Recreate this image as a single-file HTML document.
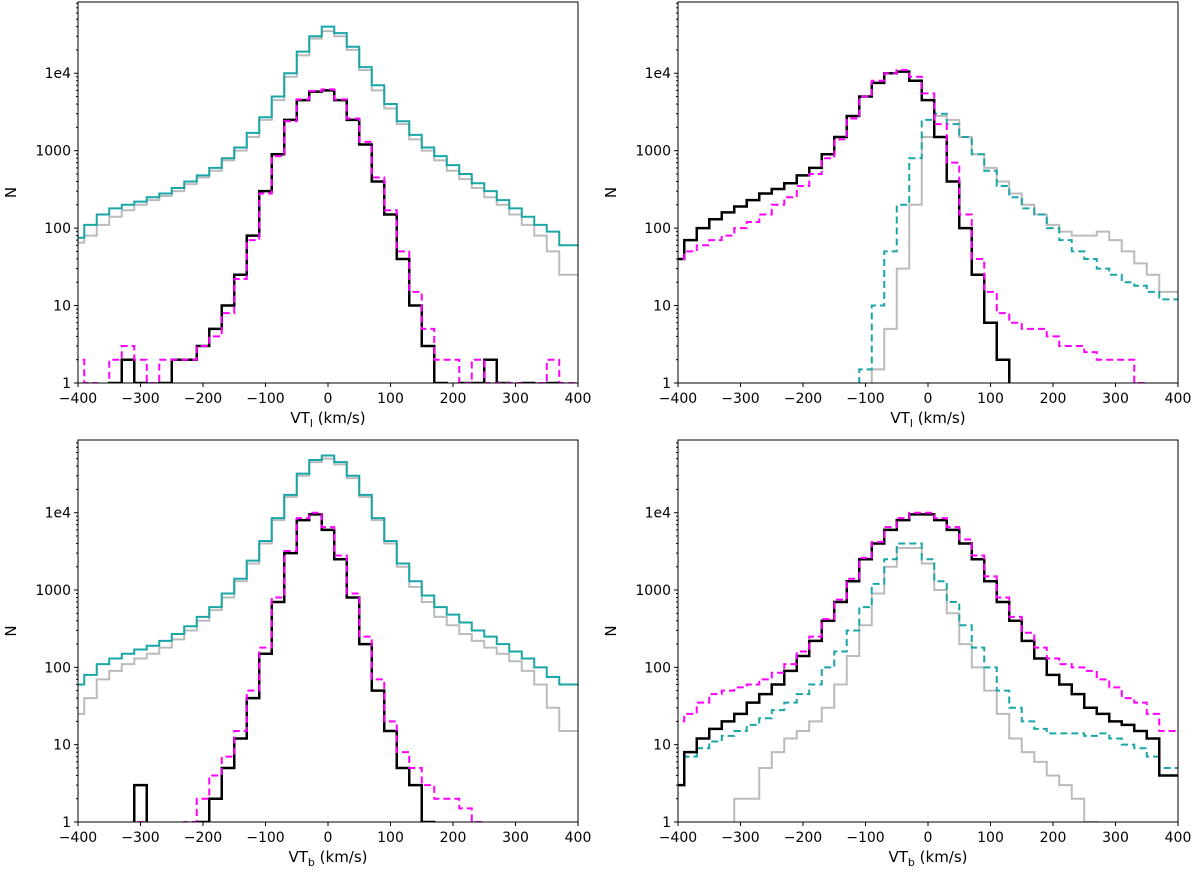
<!DOCTYPE html>
<html><head><meta charset="utf-8"><style>
body{margin:0;background:#fff;}
svg{display:block;font-family:"DejaVu Sans","Liberation Sans",sans-serif;}
</style></head><body>
<svg id="chart" width="1200" height="880" xmlns="http://www.w3.org/2000/svg"></svg>
<script>
const bins = [-410,-390,-370,-350,-330,-310,-290,-270,-250,-230,-210,-190,-170,-150,-130,-110,-90,-70,-50,-30,-10,10,30,50,70,90,110,130,150,170,190,210,230,250,270,290,310,330,350,370];
const xTicks = [-400,-300,-200,-100,0,100,200,300,400];
const yTicks = [1,10,100,1000,10000];
const yTickLabels = ["1","10","100","1000","1e4"];

const p1Gray = [65,80,110,140,170,200,230,260,300,370,450,550,750,1000,1500,2500,4500,9000,17000,28000,35000,30000,20000,11000,6000,3500,2200,1400,1000,750,550,430,330,250,200,150,110,80,50,25];
const p1Teal = [75,110,150,180,200,220,250,280,330,400,480,600,800,1100,1700,2700,5000,10000,19000,30000,40000,33000,22000,12000,7000,4000,2400,1600,1100,850,650,500,380,300,230,180,140,110,90,60];
const p1Black = [0,0,0,1,2,1,0,1,2,2,3,5,10,25,80,300,900,2500,4500,5800,6000,4500,2500,1200,400,150,40,10,3,1,0,1,1,2,1,0,1,0,1,0];
const p1Magenta = [2,1,0,2,3,2,1,2,2,2,3,4,8,22,70,280,850,2400,4600,5900,6200,4600,2600,1300,450,170,50,15,5,2,2,1,2,1,1,1,0,1,2,1];

const p2Black = [40,70,100,130,160,190,230,280,320,380,480,600,900,1500,2800,5000,7500,10000,10500,8000,4500,1500,400,100,25,6,2,0,0,0,0,0,0,0,0,0,0,0,0,0];
const p2Magenta = [40,50,60,70,80,100,120,150,200,250,350,500,800,1400,2600,5000,8000,10000,11000,9000,5500,2200,700,150,40,15,8,6,5,5,4,3,3,2.5,2,2,2,1,0,0];
const p2Teal = [0,0,0,0,0,0,0,0,0,0,0,0,0,0,0,1.5,10,50,200,800,2500,3000,2200,1500,900,550,350,250,180,150,100,70,50,40,30,25,20,18,15,12];
const p2Gray = [0,0,0,0,0,0,0,0,0,0,0,0,0,0,0,0,1.5,5,30,200,1500,2800,2500,1500,900,600,400,280,200,150,110,90,80,80,90,70,50,35,25,15];

const p3Gray = [25,40,70,90,110,130,150,180,230,300,400,550,800,1300,2200,4000,8000,16000,30000,45000,50000,42000,28000,16000,8000,4000,2000,1100,700,450,350,270,220,180,150,120,90,60,30,15];
const p3Teal = [60,80,110,130,150,170,190,220,270,340,450,600,900,1400,2400,4300,8500,17000,32000,48000,55000,45000,30000,17000,8500,4300,2200,1300,850,600,480,380,300,250,200,160,130,100,75,60];
const p3Black = [0,0,0,0,0,3,0,0,0,0,1,2,5,12,40,150,700,3000,8000,9500,6000,2500,800,200,50,15,5,3,1,0,0,0,0,0,0,0,0,0,0,0];
const p3Magenta = [0,0,0,0,0,1,0,0,0,1,2,4,7,15,50,180,800,3200,8500,10000,6500,2800,900,250,70,20,8,5,3,2,2,1.5,1,0,0,0,0,0,0,0];

const p4Black = [3,8,12,16,20,25,35,45,60,90,140,220,400,700,1300,2500,4000,6000,8000,9500,9500,8000,6000,4000,2500,1300,700,400,220,130,80,60,45,30,25,20,18,15,12,4];
const p4Magenta = [20,25,35,45,50,55,60,70,85,110,160,250,420,750,1400,2600,4200,6500,8500,10000,10000,8500,6500,4500,2800,1500,800,450,280,180,130,110,100,90,70,55,40,35,25,15];
const p4Teal = [5,7,9,11,13,15,18,22,28,35,45,60,100,160,300,600,1200,2500,4000,4000,2500,1300,700,350,180,100,50,30,20,16,14,14,14,13,14,12,10,9,7,5];
const p4Gray = [0,0,0,0,0,2,2,5,8,12,15,20,30,60,140,350,900,2000,3500,3500,2200,1000,500,200,100,50,25,12,8,6,4,3,2,1,0,0,0,0,0,0];

const NS = "http://www.w3.org/2000/svg";
const svg = document.getElementById("chart");
function mk(tag, attrs, parent){const e=document.createElementNS(NS,tag);for(const k in attrs)e.setAttribute(k,attrs[k]);(parent||svg).appendChild(e);return e;}

const panels = [
 {id:"top-left", l:78,r:578,t:2,b:383,top:4.92,lab:"l",series:[[p1Gray,"#bbbbbb",""],[p1Teal,"#1aa6a6",""],[p1Black,"#000",""],[p1Magenta,"#ff00ff","7,4"]]},
 {id:"top-right", l:678,r:1178,t:2,b:383,top:4.92,lab:"l",series:[[p2Gray,"#bbbbbb",""],[p2Teal,"#1aa6a6","7,4"],[p2Black,"#000",""],[p2Magenta,"#ff00ff","7,4"]]},
 {id:"bottom-left", l:78,r:578,t:440,b:822,top:4.94,lab:"b",series:[[p3Gray,"#bbbbbb",""],[p3Teal,"#1aa6a6",""],[p3Black,"#000",""],[p3Magenta,"#ff00ff","7,4"]]},
 {id:"bottom-right", l:678,r:1178,t:440,b:822,top:4.94,lab:"b",series:[[p4Gray,"#bbbbbb",""],[p4Teal,"#1aa6a6","7,4"],[p4Black,"#000",""],[p4Magenta,"#ff00ff","7,4"]]}
];
const names=["gray","teal","black","magenta"];

panels.forEach((p,pi)=>{
  const g = mk("g",{});
  
  
  const xs = v => p.l + (v+400)/800*(p.r-p.l);
  const ys = v => { const lv = v>0?Math.log10(v):-1; return p.b - lv/p.top*(p.b-p.t); };
  const cp = mk("clipPath",{id:"clip"+pi},g);
  mk("rect",{x:p.l,y:p.t,width:p.r-p.l,height:p.b-p.t},cp);
  p.series.forEach((s,si)=>{
    const vals=s[0]; let d="";
    const bw=20;
    vals.forEach((v,i)=>{
      const x0=xs(bins[i]), x1=(i===vals.length-1)?xs(400):xs(bins[i]+bw), y=ys(v);
      d += (i===0? "M"+x0+","+y : "L"+x0+","+y) + " L"+x1+","+y;
    });
    const path = mk("path",{d:d,fill:"none",stroke:s[1],"stroke-width":si===2?2.5:2,"stroke-dasharray":s[2],"clip-path":"url(#clip"+pi+")"},g);
    
    
  });
  const frame = mk("rect",{x:p.l,y:p.t,width:p.r-p.l,height:p.b-p.t,fill:"none",stroke:"#000","stroke-width":1},g);
  
  
  xTicks.forEach(v=>{
    const x=xs(v);
    mk("line",{x1:x,x2:x,y1:p.b,y2:p.b+4,stroke:"#000"},g);
    const t=mk("text",{x:x,y:p.b+20,"text-anchor":"middle","font-size":14},g);
    t.textContent = v<0 ? "\u2212"+(-v) : ""+v;
    
    
  });
  for(let dec=0; dec<5; dec++) for(let m=2;m<10;m++){
    const v=m*Math.pow(10,dec); if(Math.log10(v)>p.top) continue;
    const y=ys(v); mk("line",{x1:p.l-2,x2:p.l,y1:y,y2:y,stroke:"#000"},g);
  }
  yTicks.forEach((v,i)=>{
    const y=ys(v);
    mk("line",{x1:p.l-4,x2:p.l,y1:y,y2:y,stroke:"#000"},g);
    const t=mk("text",{x:p.l-7,y:y+5,"text-anchor":"end","font-size":14},g);
    t.textContent=yTickLabels[i];
    
    
  });
  const xl=mk("text",{x:(p.l+p.r)/2,y:p.b+40,"text-anchor":"middle","font-size":15},g);
  xl.innerHTML = 'VT<tspan font-size="11" dy="4">'+p.lab+'</tspan><tspan dy="-4"> (km/s)</tspan>';
  
  
  const yl=mk("text",{x:p.l-62,y:(p.t+p.b)/2,"text-anchor":"middle","font-size":15,transform:"rotate(-90 "+(p.l-62)+" "+((p.t+p.b)/2)+")"},g);
  yl.textContent="N";
  
  
});
</script>
</body></html>
